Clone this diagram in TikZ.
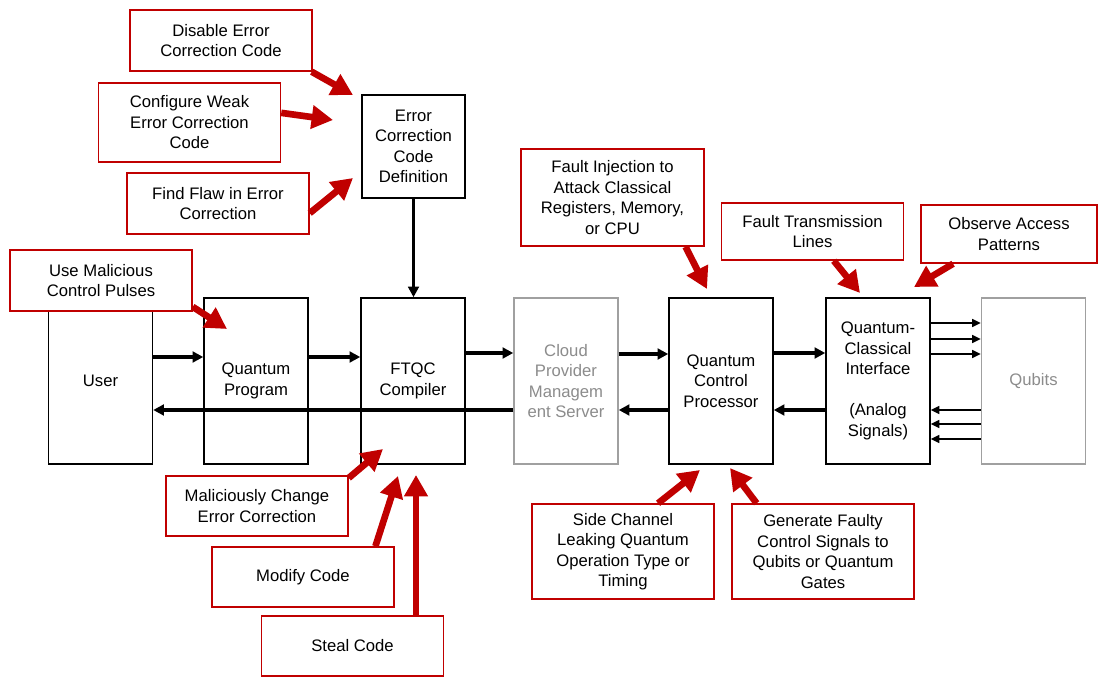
\documentclass[tikz,border=0pt]{standalone}
\usepackage{fontspec}
\setmainfont{Liberation Sans}
\usetikzlibrary{arrows.meta}
\definecolor{attack-red}{HTML}{C00000}
\definecolor{ghost-gray}{HTML}{A0A0A0}
\definecolor{ghost-text}{HTML}{8C8C8C}

\begin{document}
\begin{tikzpicture}[x=0.75pt,y=-0.75pt,
	every node/.style={font=\fontsize{12.5}{15.4}\selectfont},
	block/.style={draw=black,line width=1.1pt,fill=white,minimum width=78pt,minimum height=124.5pt,align=center,inner sep=2pt},
	ghost/.style={block,draw=ghost-gray,text=ghost-text},
	attack/.style={draw=attack-red,line width=1.1pt,fill=white,minimum width=136.5pt,minimum height=45.75pt,align=center,inner sep=2pt},
	flow/.style={black,line width=2.3pt,-{Triangle[length=8pt,width=8pt]}},
	signal/.style={black,line width=1.1pt,-{Triangle[length=6.5pt,width=6pt]}},
	threat/.style={attack-red,line width=5pt,-{Triangle[length=16pt,width=17pt]}}]

	\useasboundingbox (0,0) rectangle (1098,677);

	\draw (100.5,381) 
		node[block] 
			(User) {User};

	\draw (256,381) 
		node[block] 
			(Quantum Program) {Quantum\\Program};

	\draw (413,381) 
		node[block] 
			(FTQC Compiler) {FTQC\\Compiler};

	\draw (566,381) 
		node[ghost] 
			(Cloud Server) {Cloud\\Provider\\Managem\\ent Server};

	\draw (721,381) 
		node[block] 
			(Control Processor) {Quantum\\Control\\Processor};

	\draw (878,381) 
		node[block] 
			(QC Interface) {Quantum-\\Classical\\Interface\\[15.4pt](Analog\\Signals)};

	\draw (1033.5,381) 
		node[ghost] 
			(Qubits) {Qubits};

	\draw (413.5,146.5) 
		node[block,minimum width=77.25pt,minimum height=77.25pt] 
			(ECC Definition) {Error\\Correction\\Code\\Definition};

	\draw[flow] (ECC Definition.south) -- (ECC Definition.south |- FTQC Compiler.north);

	\draw[flow] (User.east |- 0,357) -- (Quantum Program.west |- 0,357);
	\draw[flow] (Quantum Program.east |- 0,357) -- (FTQC Compiler.west |- 0,357);
	\draw[flow] (FTQC Compiler.east |- 0,353) -- (Cloud Server.west |- 0,353);
	\draw[flow] (Cloud Server.east |- 0,354) -- (Control Processor.west |- 0,354);
	\draw[flow] (Control Processor.east |- 0,353) -- (QC Interface.west |- 0,353);

	\draw[flow] (QC Interface.west |- 0,410) -- (Control Processor.east |- 0,410);
	\draw[flow] (Control Processor.west |- 0,410) -- (Cloud Server.east |- 0,410);
	\draw[flow] (Cloud Server.west |- 0,410) -- (User.east |- 0,410);

	\draw[signal] (QC Interface.east |- 0,323) -- (Qubits.west |- 0,323);
	\draw[signal] (QC Interface.east |- 0,339) -- (Qubits.west |- 0,339);
	\draw[signal] (QC Interface.east |- 0,354) -- (Qubits.west |- 0,354);
	\draw[signal] (Qubits.west |- 0,410) -- (QC Interface.east |- 0,410);
	\draw[signal] (Qubits.west |- 0,424) -- (QC Interface.east |- 0,424);
	\draw[signal] (Qubits.west |- 0,439) -- (QC Interface.east |- 0,439);

	\draw (221,40.5) 
		node[attack] 
			(Disable ECC) {Disable Error\\Correction Code};

	\draw (189.5,122.5) 
		node[attack,minimum height=59.25pt] 
			(Weak ECC) {Configure Weak\\Error Correction\\Code};

	\draw (218,203.5) 
		node[attack] 
			(Find Flaw) {Find Flaw in Error\\Correction};

	\draw (101,280.5) 
		node[attack] 
			(Malicious Pulses) {Use Malicious\\Control Pulses};

	\draw (257,506) 
		node[attack,minimum height=45pt] 
			(Change ECC) {Maliciously Change\\Error Correction};

	\draw (303,577) 
		node[attack,minimum height=45pt] 
			(Modify Code) {Modify Code};

	\draw (352.5,646) 
		node[attack,minimum height=45pt] 
			(Steal Code) {Steal Code};

	\draw (612.5,197.5) 
		node[attack,minimum width=137.25pt,minimum height=72.75pt] 
			(Fault Injection) {Fault Injection to\\Attack Classical\\Registers, Memory,\\or CPU};

	\draw (812.5,231.5) 
		node[attack,minimum height=42.75pt] 
			(Fault Lines) {Fault Transmission\\Lines};

	\draw (1009,234) 
		node[attack,minimum width=132pt,minimum height=43.5pt] 
			(Access Patterns) {Observe Access\\Patterns};

	\draw (623,551.5) 
		node[attack,minimum height=71.25pt] 
			(Side Channel) {Side Channel\\Leaking Quantum\\Operation Type or\\Timing};

	\draw (823,551.5) 
		node[attack,minimum height=71.25pt] 
			(Faulty Signals) {Generate Faulty\\Control Signals to\\Qubits or Quantum\\Gates};

	\coordinate (Disable tip) at (353,95);
	\coordinate (Weak tip) at (333,120);
	\coordinate (Flaw tip) at (353,178);
	\coordinate (Pulses tip) at (227,329);
	\coordinate (Change tip) at (383,449);
	\coordinate (Modify tip) at (398,476);
	\coordinate (Steal tip) at (416,475);
	\coordinate (Injection tip) at (707,289);
	\coordinate (Lines tip) at (860,293);
	\coordinate (Patterns tip) at (914,287);
	\coordinate (Side tip) at (700,470);
	\coordinate (Faulty tip) at (730,468);

	\draw[threat] (Disable ECC.-19) -- (Disable tip);
	\draw[threat] (Weak ECC.6.5) -- (Weak tip);
	\draw[threat] (Find Flaw.-6) -- (Flaw tip);
	\draw[threat] (Malicious Pulses.-16) -- (Pulses tip);
	\draw[threat] (Change ECC.17) -- (Change tip);
	\draw[threat] (Modify Code.23) -- (Modify tip);
	\draw[threat] (Steal tip |- Steal Code.north) -- (Steal tip);
	\draw[threat] (Fault Injection.-34.5) -- (Injection tip);
	\draw[threat] (Fault Lines.-54) -- (Lines tip);
	\draw[threat] (Access Patterns.-152) -- (Patterns tip);
	\draw[threat] (Side Channel.54) -- (Side tip);
	\draw[threat] (Faulty Signals.144) -- (Faulty tip);

\end{tikzpicture}
\end{document}
